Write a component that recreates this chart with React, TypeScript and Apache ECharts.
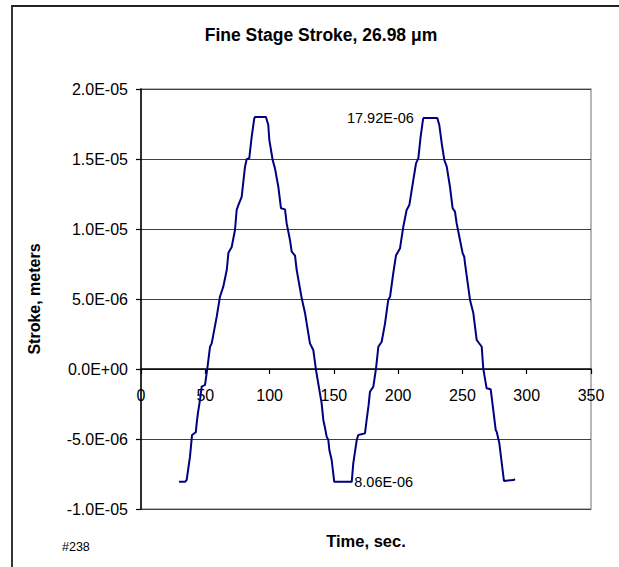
import { useEffect, useRef } from "react";
import * as echarts from "echarts";

// Stage position log: time in seconds, stroke in metres
const timeSec = [
  29.6, 34.2, 35.5, 38.1, 39.7, 42.6, 43.3, 44.3, 45.9, 47.2, 49.8, 51.6, 53.7, 55.0, 58.9, 61.4, 64.0,
  66.7, 68.0, 69.2, 70.5, 73.1, 74.4, 75.7, 78.3, 80.9, 82.2, 84.2, 86.1, 88.1, 88.7, 97.2, 99.0, 99.8,
  102.4, 104.2, 106.8, 108.9, 112.0, 113.3, 115.9, 117.2, 119.8, 121.1, 125.0, 127.6, 131.4, 134.0,
  136.1, 140.5, 141.8, 143.1, 144.4, 145.7, 146.5, 148.3, 150.3, 163.9, 165.1, 167.8, 169.0, 174.2,
  175.5, 177.0, 178.1, 180.7, 182.8, 184.6, 187.2, 189.8, 192.3, 193.7, 196.2, 198.3, 201.4, 204.0,
  206.6, 208.7, 211.8, 213.9, 215.7, 217.5, 219.1, 219.6, 230.5, 232.0, 233.9, 235.9, 237.8, 240.3,
  242.4, 244.2, 245.5, 248.1, 250.2, 251.4, 252.0, 255.9, 258.5, 261.1, 265.0, 266.2, 268.8, 272.0,
  274.0, 275.9, 276.7, 278.7, 282.3, 289.6, 290.9,
];

const strokeM = [
  -8.06e-6, -8.06e-6, -7.93e-6, -6.26e-6, -4.71e-6, -4.52e-6, -3.88e-6, -3.14e-6, -2.21e-6, -1.26e-6,
  -1.14e-6, 0.05e-6, 1.59e-6, 1.83e-6, 3.74e-6, 5.16e-6, 5.88e-6,
  7.07e-6, 8.3e-6, 8.5e-6, 8.7e-6, 9.93e-6, 11.36e-6, 11.71e-6, 12.3e-6, 14.45e-6, 14.98e-6, 15.05e-6,
  16.6e-6, 17.9e-6, 18.0e-6, 18.0e-6, 17.43e-6, 16.36e-6,
  14.93e-6, 14.33e-6, 13.02e-6, 11.48e-6, 11.4e-6, 10.4e-6, 9.2e-6, 8.38e-6, 8.1e-6, 7.07e-6, 5.05e-6,
  3.98e-6, 1.83e-6, 1.36e-6,
  -0.07e-6, -2.45e-6, -3.64e-6, -4.2e-6, -4.83e-6, -5.07e-6, -5.79e-6, -6.5e-6, -8.06e-6, -8.06e-6,
  -6.74e-6, -5.07e-6, -4.71e-6, -4.6e-6,
  -3.64e-6, -2.6e-6, -1.62e-6, -1.26e-6, 0.05e-6, 1.59e-6, 1.95e-6, 3.26e-6, 4.93e-6, 5.16e-6, 6.84e-6,
  8.1e-6, 8.6e-6, 10.16e-6,
  11.36e-6, 11.71e-6, 13.5e-6, 14.69e-6, 15.05e-6, 16.6e-6, 17.67e-6, 17.92e-6, 17.92e-6, 17.43e-6,
  16.12e-6, 14.93e-6, 14.45e-6, 13.02e-6,
  11.48e-6, 11.24e-6, 10.41e-6, 9.21e-6, 8.26e-6, 8.02e-6, 7.55e-6, 4.93e-6, 3.98e-6, 2.07e-6, 1.59e-6,
  0.05e-6, -1.38e-6, -1.45e-6,
  -2.93e-6, -4.36e-6, -4.5e-6, -5.31e-6, -8.0e-6, -7.93e-6, -7.86e-6,
];

// Points that carry a value annotation, and the side the text sits on
const annotatedTimes = [219.6, 163.9];
const annotatedSides = ["left", "right"];

const xTicks = { min: 0, max: 350, step: 50 };
const yTicks = { min: -1e-5, max: 2e-5, step: 5e-6 };

const FONT = "'Liberation Sans', Arial, Helvetica, sans-serif";

// Plot rectangle inside the 619 x 567 canvas
const GRID = { left: 141, top: 89, right: 28, bottom: 58 };
const PLOT_H = 567 - GRID.top - GRID.bottom;
// The time axis crosses the stroke axis at zero
const ZERO_OFFSET = ((0 - yTicks.min) / (yTicks.max - yTicks.min)) * PLOT_H;

function sci(v: number): string {
  if (Math.abs(v) < 1e-12) return "0.0E+00";
  const [m, e] = v.toExponential(1).split("e");
  const n = parseInt(e, 10);
  const sign = n < 0 ? "-" : "+";
  const digits = String(Math.abs(n)).padStart(2, "0");
  return `${m}E${sign}${digits}`;
}

function microLabel(v: number): string {
  return `${(Math.abs(v) * 1e6).toFixed(2)}E-06`;
}

export default function App() {
  const ref = useRef<HTMLDivElement>(null);

  useEffect(() => {
    if (!ref.current) return;
    const chart = echarts.init(ref.current, undefined, { renderer: "svg" });

    const data = timeSec.map((t, i) => [t, strokeM[i]]);

    const marks = annotatedTimes.map((t, k) => {
      const i = timeSec.indexOf(t);
      const v = strokeM[i];
      const side = annotatedSides[k];
      return {
        coord: [t, v],
        label: {
          show: true,
          position: side,
          distance: side === "left" ? 9 : 2,
          formatter: () => microLabel(v),
          fontFamily: FONT,
          fontSize: 14.5,
          color: "#000",
        },
      };
    });

    chart.setOption({
      animation: false,
      backgroundColor: "#fff",
      title: {
        text: "Fine Stage Stroke, 26.98 μm",
        left: 316,
        top: 21,
        textAlign: "center",
        textStyle: { fontFamily: FONT, fontSize: 17.5, fontWeight: "bold", color: "#000" },
      },
      grid: {
        ...GRID,
        outerBoundsMode: "none",
        show: true,
        borderColor: "#a0a0a0",
        borderWidth: 1.5,
        backgroundColor: "transparent",
      },
      xAxis: {
        type: "value",
        position: "bottom",
        offset: -ZERO_OFFSET,
        min: xTicks.min,
        max: xTicks.max,
        interval: xTicks.step,
        name: "Time, sec.",
        nameLocation: "middle",
        nameGap: 163,
        nameMoveOverlap: false,
        nameTextStyle: { fontFamily: FONT, fontSize: 16.5, fontWeight: "bold", color: "#000" },
        axisLine: { show: true, onZero: false, lineStyle: { color: "#000", width: 1.5 } },
        axisTick: { show: true, inside: false, length: 5, lineStyle: { color: "#000", width: 1.2 } },
        axisLabel: {
          margin: 18,
          fontFamily: FONT,
          fontSize: 16,
          color: "#000",
          showMinLabel: true,
          showMaxLabel: true,
        },
        splitLine: { show: false },
      },
      yAxis: {
        type: "value",
        min: yTicks.min,
        max: yTicks.max,
        interval: yTicks.step,
        name: "Stroke, meters",
        nameLocation: "middle",
        nameGap: 99,
        nameMoveOverlap: false,
        nameTextStyle: { fontFamily: FONT, fontSize: 16, fontWeight: "bold", color: "#000" },
        axisLine: { show: true, onZero: false, lineStyle: { color: "#000", width: 1.5 } },
        axisTick: { show: true, inside: false, length: 5, lineStyle: { color: "#000", width: 1.2 } },
        axisLabel: {
          margin: 13,
          fontFamily: FONT,
          fontSize: 16,
          color: "#000",
          formatter: (v: number) => sci(v),
        },
        splitLine: { show: true, lineStyle: { color: "#404040", width: 1 } },
      },
      series: [
        {
          type: "line",
          data,
          showSymbol: false,
          lineStyle: { color: "#000080", width: 2 },
          itemStyle: { color: "#000080" },
          z: 5,
          markPoint: {
            symbol: "circle",
            symbolSize: 1,
            itemStyle: { color: "#000080" },
            data: marks,
          },
        },
      ],
      graphic: [
        {
          type: "rect",
          shape: { x: 12, y: 6, width: 640, height: 620 },
          style: { fill: "none", stroke: "#222", lineWidth: 1.8 },
          silent: true,
        },
        {
          type: "text",
          x: 62,
          y: 547,
          style: {
            text: "#238",
            fontFamily: FONT,
            fontSize: 12.5,
            fill: "#000",
            textVerticalAlign: "middle",
          },
        },
      ],
    });

    return () => chart.dispose();
  }, []);

  return (
    <div
      ref={ref}
      style={{ position: "fixed", left: 0, top: 0, width: 619, height: 567, background: "#fff" }}
    />
  );
}
